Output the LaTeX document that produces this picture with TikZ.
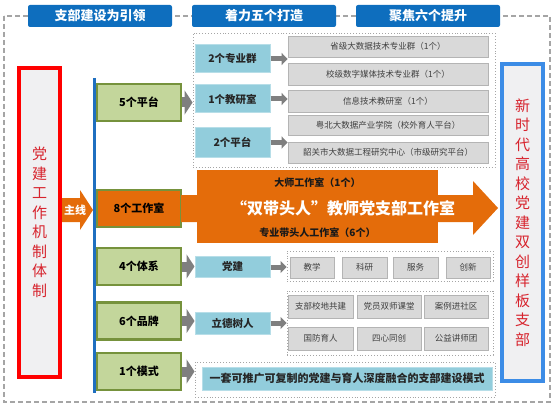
\documentclass[tikz,border=0pt]{standalone}
\usepackage{fontspec}
\setmainfont{Noto Sans CJK SC}
\usetikzlibrary{arrows.meta}
\definecolor{hdblue}{RGB}{14,110,190}
\definecolor{framegray}{RGB}{165,165,165}
\definecolor{sidered}{RGB}{215,35,45}
\definecolor{sideblue}{RGB}{60,140,230}
\definecolor{sidefill}{RGB}{240,240,242}
\definecolor{lineblue}{RGB}{31,111,192}
\definecolor{grnfill}{RGB}{195,214,155}
\definecolor{grnline}{RGB}{118,146,60}
\definecolor{orng}{RGB}{228,108,10}
\definecolor{ltblue}{RGB}{146,205,220}
\definecolor{ltbline}{RGB}{183,222,232}
\definecolor{gryfill}{RGB}{217,217,217}
\definecolor{gryline}{RGB}{180,180,180}
\definecolor{arrgray}{RGB}{127,127,127}
\begin{document}
\begin{tikzpicture}[x=1pt, y=-1pt, every node/.style={inner sep=0pt, align=center},
  hd/.style={fill=hdblue, rounded corners=2pt, minimum width=144, minimum height=22, text=white, font=\fontsize{13}{13}\selectfont\bfseries},
  sidebox/.style={line width=4pt, fill=sidefill, minimum width=41, text=sidered, font=\fontsize{15}{19.5}\selectfont},
  grn/.style={draw=grnline, line width=2.5pt, fill=grnfill, minimum width=84, minimum height=37, font=\fontsize{11}{11}\selectfont\bfseries},
  lb/.style={fill=ltblue, draw=ltbline, line width=1pt, minimum width=75, text=black!85, font=\fontsize{10.5}{10.5}\selectfont\bfseries},
  gb/.style={fill=gryfill, draw=gryline, line width=0.8pt, text=black!75, font=\fontsize{8.5}{8.5}\selectfont},
  orbox/.style={fill=orng, minimum width=241, text=black!90, font=\fontsize{10}{10}\selectfont\bfseries},
  dotbox/.style={draw=framegray, dotted, line width=0.9pt},
  ga/.style={draw=arrgray, line width=5pt, -{Triangle[width=12pt,length=6pt]}},
  gA/.style={draw=arrgray, line width=10pt, -{Triangle[width=24pt,length=8pt]}}]
  \useasboundingbox (0,0) rectangle (554,409);

  % 1. 外框与标题
  \draw[framegray, line width=1.2pt, dash pattern=on 5pt off 3pt] (4,16) rectangle (550,402);
  \node[hd] (hlead) at (100,16) {支部建设为引领};
  \node[hd] (hbuild) at (264,16) {着力五个打造};
  \node[hd] (hlift) at (428,16) {聚焦六个提升};

  % 2. 左右两侧
  \node[sidebox, draw=red, minimum height=309] (mech) at (39.5,222.5) {党\\建\\工\\作\\机\\制\\体\\制};
  \node[sidebox, draw=sideblue, minimum height=317] (model) at (522.5,222.5) {新\\时\\代\\高\\校\\党\\建\\双\\创\\样\\板\\支\\部};

  % 3. 主线与竖线
  \fill[orng] (62,198) -- (80,198) -- (80,190) -- (93,210) -- (80,230) -- (80,222) -- (62,222) -- cycle;
  \node[text=white, font=\fontsize{11}{11}\selectfont\bfseries] (mainline) at (75,210) {主线};
  \draw[lineblue, line width=2.5pt] (94.5,78) -- (94.5,393);

  % 4. 五个打造
  \node[grn] (plat5) at (139,102.5) {5个平台};
  \node[grn, fill=orng] (studio8) at (139,208.5) {8个工作室};
  \node[grn] (sys4) at (139,266.5) {4个体系};
  \node[grn] (brand6) at (139,321) {6个品牌};
  \node[grn] (mode1) at (139,371.5) {1个模式};

  % 5. 平台
  \node[dotbox, minimum width=302, minimum height=134] (platbox) at (344,100) {};
  \node[lb, minimum height=28] (major2) at (232.5,59) {2个专业群};
  \node[lb, minimum height=28] (office1) at (232.5,99) {1个教研室};
  \node[lb, minimum height=29] (platf2) at (232.5,142.5) {2个平台};
  \node[gb, minimum width=200, minimum height=21] (pg1) at (388,46.5) {省级大数据技术专业群（1个）};
  \node[gb, minimum width=200, minimum height=22] (pg2) at (388,74) {校级数字媒体技术专业群（1个）};
  \node[gb, minimum width=200, minimum height=22] (pg3) at (388,101) {信息技术教研室（1个）};
  \node[gb, minimum width=200, minimum height=20] (pg4) at (388,125) {粤北大数据产业学院（校外育人平台）};
  \node[gb, minimum width=200, minimum height=21] (pg5) at (388,152.5) {韶关市大数据工程研究中心（市级研究平台）};
  \draw[gA] (plat5.east) -- (plat5.east -| platbox.west);
  \draw[ga] (major2.east) -- (major2.east -| pg1.west);
  \draw[ga] (office1.east) -- (office1.east -| pg3.west);
  \draw[ga] (platf2.east) -- (platf2.east -| pg5.west);

  % 6. 工作室
  \fill[orng] (181,195) -- (473,195) -- (473,181) -- (498,208) -- (473,235) -- (473,222) -- (181,222) -- cycle;
  \node[orbox, minimum height=25] (master) at (317.5,182.5) {大师工作室（1个）};
  \node[orbox, minimum height=21] (leader) at (317.5,232.5) {专业带头人工作室（6个）};
  \node[text=white, font=\fontsize{16}{16}\selectfont\bfseries] (dual) at (343,208) {“双带头人”教师党支部工作室};

  % 7. 体系
  \node[lb, minimum height=21] (party) at (232.5,267) {党建};
  \node[dotbox, minimum width=206, minimum height=30] (sysbox) at (390,266) {};
  \node[gb, minimum width=44, minimum height=21] (teach) at (312,267.5) {教学};
  \node[gb, minimum width=45, minimum height=21] (research) at (364.5,267.5) {科研};
  \node[gb, minimum width=45, minimum height=21] (service) at (415.5,267.5) {服务};
  \node[gb, minimum width=44, minimum height=21] (innov) at (468,267.5) {创新};
  \draw[gA] (sys4.east) -- (sys4.east -| party.west);
  \draw[ga] (party.east) -- (party.east -| sysbox.west);

  % 8. 品牌
  \node[lb, minimum height=22] (moral) at (232.5,323) {立德树人};
  \node[dotbox, minimum width=206, minimum height=64] (brandbox) at (390,323) {};
  \node[gb, minimum width=65, minimum height=23] (campus) at (320.5,306.5) {支部校地共建};
  \node[gb, minimum width=64, minimum height=23] (dualcls) at (389,306.5) {党员双师课堂};
  \node[gb, minimum width=64, minimum height=23] (cases) at (456,306.5) {案例进社区};
  \node[gb, minimum width=65, minimum height=23] (defence) at (320.5,338.5) {国防育人};
  \node[gb, minimum width=64, minimum height=23] (fourheart) at (389,338.5) {四心同创};
  \node[gb, minimum width=64, minimum height=23] (lecture) at (456,338.5) {公益讲师团};
  \draw[gA] (brand6.east) -- (brand6.east -| moral.west);
  \draw[ga] (moral.east) -- (moral.east -| brandbox.west);

  % 9. 模式
  \node[dotbox, minimum width=300, minimum height=35] (modebox) at (345,379.5) {};
  \node[lb, minimum width=290, minimum height=23, font=\fontsize{11}{11}\selectfont\bfseries] (modetxt) at (347,378.5) {一套可推广可复制的党建与育人深度融合的支部建设模式};
  \draw[gA] (mode1.east) -- (mode1.east -| modebox.west);
\end{tikzpicture}
\end{document}
